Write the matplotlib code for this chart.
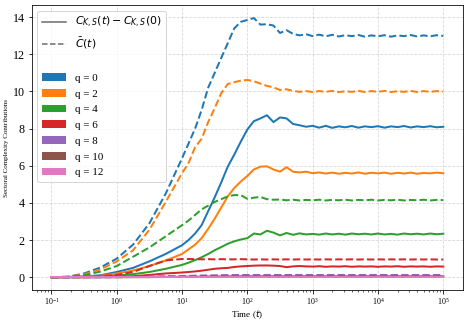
import numpy as np
import matplotlib
matplotlib.use("Agg")
import matplotlib.pyplot as plt
from matplotlib.lines import Line2D
from matplotlib.patches import Patch

plt.rcParams['font.family'] = ['Liberation Serif', 'DejaVu Serif']

# time points (log10 of time)
log_t = [-1.0, -0.75, -0.5, -0.25, 0.0, 0.25, 0.5, 0.75,
         1.0, 1.1, 1.2, 1.3, 1.4, 1.5, 1.6, 1.7, 1.8, 1.9,
         2.0, 2.1, 2.2, 2.3, 2.4, 2.5, 2.6, 2.7, 2.8, 2.9,
         3.0, 3.1, 3.2, 3.3, 3.4, 3.5, 3.6, 3.7, 3.8, 3.9,
         4.0, 4.1, 4.2, 4.3, 4.4, 4.5, 4.6, 4.7, 4.8, 4.9, 5.0]

q_labels = ["q = 0", "q = 2", "q = 4", "q = 6", "q = 8", "q = 10", "q = 12"]
colors = ["#1f77b4", "#ff7f0e", "#2ca02c", "#d62728", "#9467bd", "#8c564b", "#e377c2"]

# C_{K,S}(t) - C_{K,S}(0)  (solid)
solid_q0 = [0.0, 0.01, 0.04, 0.1, 0.28, 0.5, 0.85, 1.25,
            1.72, 2.0, 2.35, 2.8, 3.55, 4.3, 5.1, 5.95, 6.6, 7.3,
            7.95, 8.4, 8.55, 8.72, 8.35, 8.6, 8.55, 8.25, 8.18, 8.1,
            8.15, 8.05, 8.15, 8.04, 8.12, 8.07, 8.14, 8.05, 8.12, 8.08,
            8.13, 8.05, 8.12, 8.08, 8.14, 8.06, 8.12, 8.08, 8.13, 8.07, 8.1]
solid_q2 = [0.0, 0.01, 0.03, 0.07, 0.2, 0.36, 0.6, 0.9,
            1.25, 1.5, 1.75, 2.1, 2.6, 3.15, 3.75, 4.35, 4.8, 5.15,
            5.45, 5.8, 5.95, 5.97, 5.8, 5.68, 5.92, 5.68, 5.64, 5.68,
            5.6, 5.64, 5.58, 5.63, 5.57, 5.62, 5.58, 5.64, 5.57, 5.62,
            5.59, 5.63, 5.57, 5.62, 5.58, 5.63, 5.57, 5.61, 5.59, 5.63, 5.6]
solid_q4 = [0.0, 0.0, 0.01, 0.03, 0.08, 0.16, 0.28, 0.45,
            0.66, 0.78, 0.92, 1.07, 1.25, 1.45, 1.62, 1.8, 1.93, 2.03,
            2.1, 2.35, 2.3, 2.5, 2.4, 2.25, 2.38, 2.28, 2.36, 2.3,
            2.33, 2.29, 2.35, 2.3, 2.34, 2.29, 2.35, 2.31, 2.34, 2.3,
            2.35, 2.3, 2.33, 2.29, 2.35, 2.31, 2.34, 2.3, 2.35, 2.31, 2.34]
solid_q6 = [0.0, 0.0, 0.0, 0.01, 0.02, 0.05, 0.12, 0.2,
            0.25, 0.28, 0.31, 0.35, 0.4, 0.45, 0.48, 0.5, 0.55, 0.58,
            0.6, 0.62, 0.63, 0.63, 0.62, 0.6, 0.54, 0.58, 0.6, 0.58,
            0.57, 0.59, 0.56, 0.58, 0.57, 0.59, 0.56, 0.58, 0.57, 0.58,
            0.56, 0.58, 0.57, 0.59, 0.56, 0.58, 0.57, 0.58, 0.56, 0.58, 0.57]
solid_q8 = [0.0, 0.0, 0.0, 0.0, 0.0, 0.01, 0.01, 0.02,
            0.02, 0.03, 0.03, 0.03, 0.04, 0.04, 0.04, 0.04, 0.05, 0.05,
            0.05, 0.05, 0.05, 0.05, 0.05, 0.05, 0.05, 0.05, 0.05, 0.05,
            0.05, 0.05, 0.05, 0.05, 0.05, 0.05, 0.05, 0.05, 0.05, 0.05,
            0.05, 0.05, 0.05, 0.05, 0.05, 0.05, 0.05, 0.05, 0.05, 0.05, 0.05]
solid_q10 = [0.0, 0.0, 0.0, 0.0, 0.0, 0.0, 0.0, 0.01,
             0.01, 0.01, 0.01, 0.01, 0.01, 0.02, 0.02, 0.02, 0.02, 0.02,
             0.02, 0.02, 0.02, 0.02, 0.02, 0.02, 0.02, 0.02, 0.02, 0.02,
             0.02, 0.02, 0.02, 0.02, 0.02, 0.02, 0.02, 0.02, 0.02, 0.02,
             0.02, 0.02, 0.02, 0.02, 0.02, 0.02, 0.02, 0.02, 0.02, 0.02, 0.02]
solid_q12 = [0.0] * 49

# C-bar(t)  (dashed)
dash_q0 = [0.0, 0.02, 0.2, 0.52, 1.0, 1.75, 2.9, 4.5,
           6.4, 7.2, 8.0, 9.0, 10.2, 11.0, 11.8, 12.6, 13.4, 13.75,
           13.85, 13.95, 13.6, 13.62, 13.55, 13.15, 13.3, 13.1, 13.02, 13.08,
           12.98, 13.06, 12.97, 13.05, 12.96, 13.03, 12.98, 13.04, 12.95, 13.02,
           12.97, 13.03, 12.95, 13.02, 12.98, 13.04, 12.96, 13.02, 12.97, 13.03, 12.99]
dash_q2 = [0.0, 0.02, 0.15, 0.42, 0.85, 1.45, 2.55, 4.05,
           5.6, 6.15, 7.0, 7.45, 8.35, 9.1, 9.9, 10.4, 10.5, 10.58,
           10.62, 10.55, 10.42, 10.3, 10.22, 10.08, 10.12, 10.03, 9.98, 10.02,
           9.97, 10.02, 9.98, 10.03, 9.97, 10.01, 9.98, 10.03, 9.97, 10.02,
           9.98, 10.03, 9.97, 10.01, 9.98, 10.03, 9.97, 10.02, 9.98, 10.02, 10.0]
dash_q4 = [0.0, 0.02, 0.1, 0.3, 0.6, 1.1, 1.6, 2.2,
           2.8, 3.05, 3.35, 3.65, 3.85, 4.05, 4.2, 4.35, 4.42, 4.42,
           4.22, 4.28, 4.32, 4.2, 4.17, 4.18, 4.14, 4.17, 4.13, 4.16,
           4.14, 4.17, 4.13, 4.16, 4.14, 4.17, 4.13, 4.16, 4.14, 4.17,
           4.13, 4.16, 4.14, 4.17, 4.13, 4.16, 4.14, 4.17, 4.13, 4.16, 4.15]
dash_q6 = [0.0, 0.0, 0.01, 0.05, 0.12, 0.28, 0.6, 0.9,
           0.98, 0.98, 0.97, 0.96, 0.97, 0.96, 0.97, 0.96, 0.96, 0.97,
           0.96, 0.95, 0.96, 0.95, 0.96, 0.95, 0.96, 0.95, 0.96, 0.95,
           0.96, 0.95, 0.96, 0.95, 0.96, 0.95, 0.96, 0.95, 0.96, 0.95,
           0.96, 0.95, 0.96, 0.95, 0.96, 0.95, 0.96, 0.95, 0.96, 0.95, 0.95]
dash_q8 = [0.0, 0.0, 0.0, 0.0, 0.01, 0.02, 0.03, 0.05,
           0.06, 0.07, 0.08, 0.09, 0.1, 0.1, 0.11, 0.11, 0.12, 0.12,
           0.12, 0.12, 0.12, 0.12, 0.12, 0.12, 0.12, 0.12, 0.12, 0.12,
           0.12, 0.12, 0.12, 0.12, 0.12, 0.12, 0.12, 0.12, 0.12, 0.12,
           0.12, 0.12, 0.12, 0.12, 0.12, 0.12, 0.12, 0.12, 0.12, 0.12, 0.12]
dash_q10 = [0.0, 0.0, 0.0, 0.0, 0.0, 0.01, 0.01, 0.02,
            0.02, 0.02, 0.03, 0.03, 0.03, 0.03, 0.03, 0.03, 0.03, 0.03,
            0.03, 0.03, 0.03, 0.03, 0.03, 0.03, 0.03, 0.03, 0.03, 0.03,
            0.03, 0.03, 0.03, 0.03, 0.03, 0.03, 0.03, 0.03, 0.03, 0.03,
            0.03, 0.03, 0.03, 0.03, 0.03, 0.03, 0.03, 0.03, 0.03, 0.03, 0.03]
dash_q12 = [0.0] * 49

solid_series = [solid_q0, solid_q2, solid_q4, solid_q6, solid_q8, solid_q10, solid_q12]
dash_series = [dash_q0, dash_q2, dash_q4, dash_q6, dash_q8, dash_q10, dash_q12]

t = np.power(10.0, np.array(log_t))

fig = plt.figure(figsize=(6.5, 322 / 72), dpi=72)
ax = fig.add_axes([0.068, 0.099, 0.921, 0.885])

for c, ys, yd in zip(colors, solid_series, dash_series):
    ax.plot(t, yd, color=c, linestyle='--', linewidth=2.0)
    ax.plot(t, ys, color=c, linestyle='-', linewidth=2.0)

ax.set_xscale('log')
ax.grid(True, linestyle='--', alpha=0.5)
ax.set_xlabel('Time ($t$)', fontsize=9, labelpad=1)
ax.set_ylabel('Sectoral Complexity Contributions', fontsize=7, labelpad=4)
ax.tick_params(axis='x', labelsize=8, pad=2.5)
ax.tick_params(axis='y', labelsize=12)
ax.set_yticks([0, 2, 4, 6, 8, 10, 12, 14])

handles = [Line2D([], [], color='dimgray', linestyle='-', linewidth=1.5),
           Line2D([], [], color='dimgray', linestyle='--', linewidth=1.5),
           Line2D([], [], color='none')]
labels = [r'$C_{K,S}(t) - C_{K,S}(0)$', r'$\bar{C}(t)$', ' ']
for c, lab in zip(colors, q_labels):
    handles.append(Patch(facecolor=c))
    labels.append(lab)
ax.legend(handles, labels, loc='upper left', fontsize=11, handlelength=2.2,
          labelspacing=0.55)

fig.savefig('out.png', dpi=72)
